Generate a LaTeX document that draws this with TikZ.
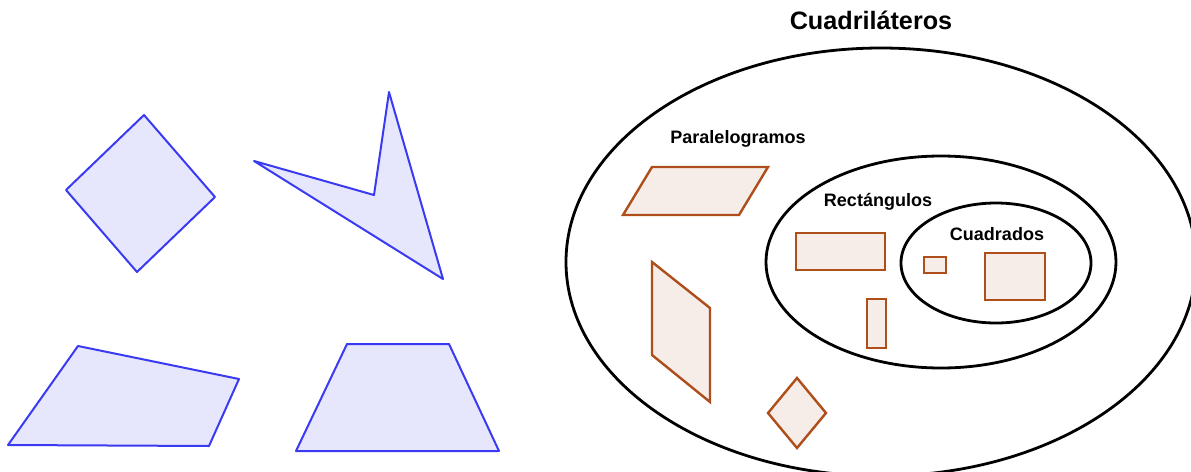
\documentclass[tikz,border=0pt]{standalone}
\usepackage{fontspec}
\setmainfont{Liberation Sans}
\definecolor{quadblue}{HTML}{3A3AF2}
\definecolor{quadfill}{HTML}{E6E6FD}
\definecolor{quadbrown}{HTML}{AE4E1A}
\definecolor{quadtan}{HTML}{F6ECE8}
\tikzset{
  freequad/.style={draw=quadblue,fill=quadfill,line width=1pt,line join=round},
  classquad/.style={draw=quadbrown,fill=quadtan,line width=1.2pt,line join=miter},
  setline/.style={draw=black,line width=1.4pt},
  setlbl/.style={font=\bfseries\fontsize{9}{11}\selectfont,inner sep=0pt,anchor=base},
  titlelbl/.style={font=\bfseries\fontsize{12.6}{15}\selectfont,inner sep=0pt,anchor=base},
}
\begin{document}
\begin{tikzpicture}[x=0.5pt,y=-0.5pt]
  \useasboundingbox (0,0) rectangle (1191,472);
  \clip (0,0) rectangle (1191,472);

  % ===== left: four loose quadrilaterals =====
  \draw[freequad] (144,115) -- (215,197) -- (137,272) -- (66,190) -- cycle;
  \draw[freequad] (254,161) -- (374,195) -- (389,92) -- (443,279) -- cycle;
  \draw[freequad] (78,346) -- (239,379) -- (209,446) -- (8,445) -- cycle;
  \draw[freequad] (347,344) -- (449,344) -- (499,451) -- (296,451) -- cycle;

  % ===== right: nested sets =====
  \node[titlelbl] (title) at (871,29) {Cuadriláteros};
  \draw[setline] (881,262) ellipse [x radius=315, y radius=214];
  \draw[setline] (941,262) ellipse [x radius=175, y radius=106];
  \draw[setline] (996,263) ellipse [x radius=95, y radius=60];
  \node[setlbl] (paral) at (738,143) {Paralelogramos};
  \node[setlbl] (rect) at (878,206) {Rectángulos};
  \node[setlbl] (sq) at (997,240) {Cuadrados};

  % parallelograms
  \draw[classquad] (652,167) -- (768,167) -- (739,215) -- (623,215) -- cycle;
  \draw[classquad] (652,262) -- (710,308) -- (710,402) -- (652,355) -- cycle;
  \draw[classquad] (797,378) -- (826,413) -- (797,448) -- (768,413) -- cycle;
  % rectangles
  \draw[classquad] (796,233) rectangle (885,270);
  \draw[classquad] (867,299) rectangle (886,348);
  % squares
  \draw[classquad] (924,257) rectangle (946,273);
  \draw[classquad] (985,253) rectangle (1045,300);
\end{tikzpicture}
\end{document}
